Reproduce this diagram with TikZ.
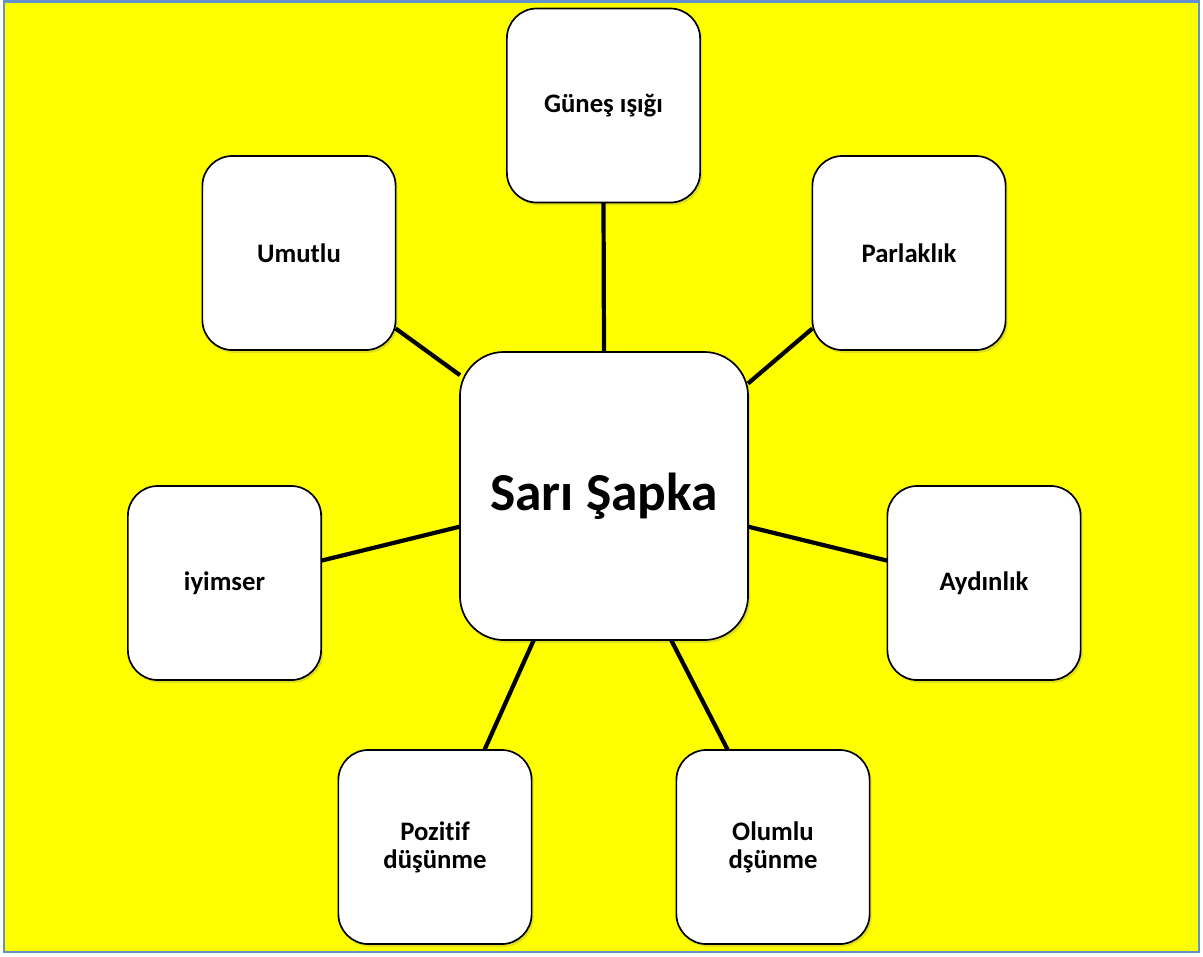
\documentclass[tikz,border=0pt]{standalone}
\usepackage{fontspec}
\setmainfont{Carlito}[Ligatures=NoCommon]
\usetikzlibrary{shadows}
\definecolor{bgYel}{RGB}{255,255,0}
\definecolor{frBlue}{RGB}{100,145,205}

\begin{document}
\begin{tikzpicture}[x=0.025cm,y=-0.025cm,
  hub/.style={draw=black,fill=white,line width=1.2pt,rounded corners=1.1cm,minimum width=7.2cm,minimum height=7.2cm,inner sep=0pt,outer sep=0pt,align=center,font=\fontsize{38}{44}\selectfont\bfseries,drop shadow={shadow xshift=1.5pt,shadow yshift=-2pt,opacity=0.25}},
  leaf/.style={draw=black,fill=white,line width=1.2pt,rounded corners=0.75cm,minimum width=4.83cm,minimum height=4.85cm,inner sep=0pt,outer sep=0pt,align=center,font=\fontsize{19}{20}\selectfont\bfseries,drop shadow={shadow xshift=1.5pt,shadow yshift=-2pt,opacity=0.25}},
  ln/.style={line width=3pt,black}]
\useasboundingbox (0,0) rectangle (1203,956);
\fill[white] (0,0) rectangle (1203,956);
\fill[bgYel] (4,1.5) rectangle (1199,952);
\draw[frBlue,line width=2pt] (4,1.5) rectangle (1199,952);
\node[hub] (sari) at (604,496) {Sarı Şapka};
\node[leaf] (gunes) at (603.5,105.5) {Güneş ışığı};
\node[leaf] (umut) at (299,253) {Umutlu};
\node[leaf] (parl) at (909,253) {Parlaklık};
\node[leaf] (iyim) at (224.5,583) {iyimser};
\node[leaf] (aydin) at (984,583) {Aydınlık};
\node[leaf] (pozit) at (435,847) {Pozitif\\düşünme};
\node[leaf] (olum) at (773,847) {Olumlu\\dşünme};
\foreach \s/\a/\b in {gunes/270/90,umut/-38.4/140.8,parl/218.4/38.4,iyim/13.4/192.1,aydin/167.8/-12.1,pozit/63.2/244.7,olum/115.9/295.3}
  \draw[ln] (\s.\a) -- (sari.\b);
\end{tikzpicture}
\end{document}
